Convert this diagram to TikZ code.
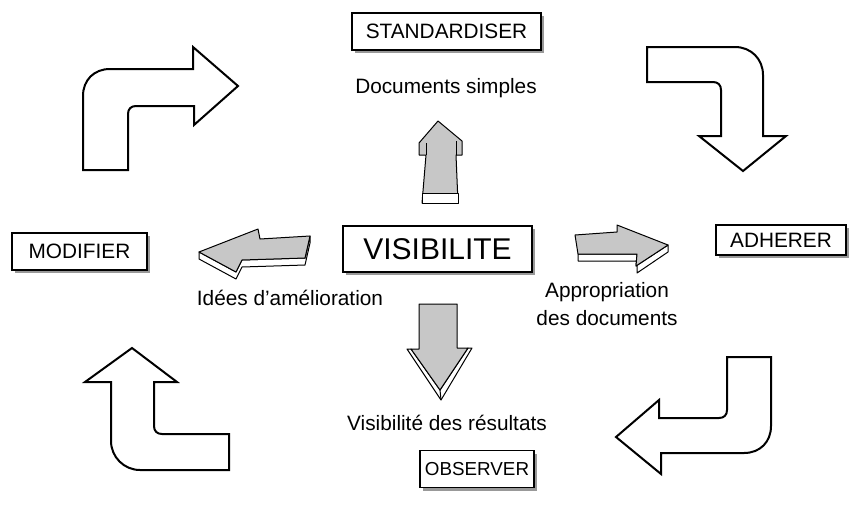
\documentclass[tikz,border=0pt]{standalone}
\usepackage{fontspec}
\setmainfont{Liberation Sans}
\usetikzlibrary{shadows}

\begin{document}
\begin{tikzpicture}[x=0.5pt, y=-0.5pt,
  % Node Styles
  stepbox/.style={rectangle, draw, line width=0.6pt, fill=white, inner sep=0pt, align=center, font=\fontsize{10.4}{12.5}\selectfont, drop shadow={shadow xshift=1.6pt, shadow yshift=-1.6pt, fill=black!40, opacity=1}},
  mainbox/.style={stepbox, font=\fontsize{15}{18}\selectfont},
  txtlabel/.style={align=center, font=\fontsize{10.4}{14}\selectfont},
  % Arrow Styles
  bentarrow/.style={draw, line width=1pt, fill=white, line join=miter},
  topface/.style={draw, line width=0.5pt, fill=black!22, line join=round},
  sideface/.style={draw, line width=0.5pt, fill=white, line join=round},
]
\useasboundingbox (0,0) rectangle (849,514);

% Boxes
\node[stepbox, minimum width=94.5pt, minimum height=18.5pt] (standardiser) at (446.5,31.5) {STANDARDISER};
\node[mainbox, minimum width=94.5pt, minimum height=23pt] (visibilite) at (437.5,249) {VISIBILITE};
\node[stepbox, minimum width=67.5pt, minimum height=18.5pt] (modifier) at (79.5,251.5) {MODIFIER};
\node[stepbox, minimum width=65pt, minimum height=15pt] (adherer) at (781,240) {ADHERER};
\node[stepbox, minimum width=57pt, minimum height=18.5pt, font=\fontsize{9.4}{11}\selectfont] (observer) at (477,469) {OBSERVER};

% Labels
\node[txtlabel] (docs) at (446,88) {Documents simples};
\node[txtlabel] (idees) at (290,298) {Idées d'amélioration};
\node[txtlabel] (appro) at (607,304) {Appropriation\\des documents};
\node[txtlabel] (visres) at (447,423) {Visibilité des résultats};

% Cycle arrows
\draw[bentarrow] (83,170) -- (83,96) .. controls (83,80) and (94,69) .. (110,69) -- (193,69) -- (193,47) -- (238,86) -- (194,125) -- (194,106) -- (136,106) .. controls (131,106) and (128,109) .. (128,114) -- (128,170) -- cycle;
\draw[bentarrow] (647,47) -- (735,47) .. controls (751,47) and (763,59) .. (763,75) -- (763,136) -- (786,136) -- (743,171) -- (699,136) -- (721,136) -- (721,90) .. controls (721,85) and (718,82) .. (713,82) -- (647,82) -- cycle;
\draw[bentarrow] (727,357) -- (771,357) -- (771,426) .. controls (771,442) and (760,453) .. (744,453) -- (661,453) -- (661,474) -- (616,437) -- (659,400) -- (659,418) -- (719,418) .. controls (724,418) and (727,415) .. (727,410) -- cycle;
\draw[bentarrow] (132,348) -- (177,382) -- (154,382) -- (154,426) .. controls (154,431) and (157,434) .. (162,434) -- (229,434) -- (229,470) -- (140,470) .. controls (124,470) and (111,457) .. (111,441) -- (111,382) -- (85,382) -- cycle;

% Up arrow
\draw[topface] (438,121) -- (462,141) -- (462,155) -- (456,155) -- (458,203) -- (422,203) -- (426,155) -- (419,155) -- (419,143) -- cycle;
\draw[line width=0.5pt] (426,143) -- (426,155) (456,141) -- (456,155);
\draw[sideface] (422,193) -- (458,193) -- (458,203) -- (422,203) -- cycle;

% Left arrow
\draw[sideface] (199,252) -- (236,272) -- (242,260) -- (305,258) -- (310,236) -- (310,243) -- (305,265) -- (242,267) -- (236,279) -- (199,259) -- cycle;
\draw[topface] (199,252) -- (258,229) -- (260,239) -- (310,236) -- (305,258) -- (242,260) -- (236,272) -- cycle;

% Right arrow
\draw[sideface] (578,254) -- (637,254) -- (636,266) -- (668,245) -- (668,252) -- (637,273) -- (637,261) -- (578,261) -- cycle;
\draw[topface] (575,235) -- (617,232) -- (617,225) -- (668,245) -- (636,266) -- (637,254) -- (578,254) -- cycle;

% Down arrow
\draw[sideface] (411,349) -- (440,390) -- (468,348) -- (472,348) -- (441,400) -- (407,349) -- cycle;
\draw[topface] (419,304) -- (457,304) -- (457,348) -- (468,348) -- (440,390) -- (411,349) -- (419,349) -- cycle;
\draw[line width=0.5pt] (440,390) -- (441,400);

\end{tikzpicture}
\end{document}
